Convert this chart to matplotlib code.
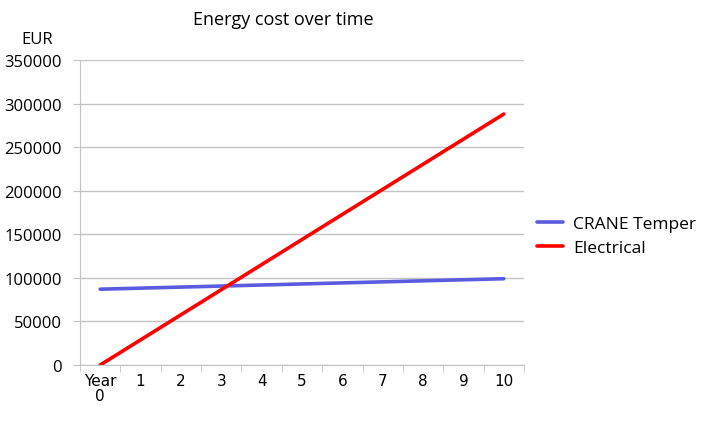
import matplotlib.pyplot as plt
import numpy as np

years = ['Year\n0', '1', '2', '3', '4', '5', '6', '7', '8', '9', '10']
crane_temper = [87000, 88200, 89400, 90600, 91800, 93000, 94200, 95400, 96600, 97800, 99000]
electrical = [0, 28800, 57600, 86400, 115200, 144000, 172800, 201600, 230400, 259200, 288000]
yticks = [0, 50000, 100000, 150000, 200000, 250000, 300000, 350000]

calibri_like = ['Open Sans', 'DejaVu Sans']
grey = '#C4C4C4'

fig = plt.figure(figsize=(7.21, 4.27), dpi=100)
ax = fig.add_axes([80 / 721, 61 / 427, 444 / 721, 305 / 427])

x = np.arange(len(years))
ax.plot(x, crane_temper, '-', color='#5B5BE0', lw=2.6, label='CRANE Temper', solid_capstyle='round')
ax.plot(x, electrical, '-', color='#FF0000', lw=2.6, label='Electrical', solid_capstyle='round')

ax.set_xlim(-0.5, len(years) - 0.5)
ax.set_ylim(0, 350000)
ax.set_yticks(yticks)
ax.set_yticklabels([str(v) for v in yticks], fontsize=12, family=calibri_like)
ax.yaxis.grid(True, color=grey, lw=1)
ax.set_axisbelow(True)

ax.set_xticks(x)
ax.set_xticklabels(years, fontsize=11, family='DejaVu Sans', linespacing=1.0)
ax.set_xticks(np.arange(len(years) + 1) - 0.5, minor=True)
ax.tick_params(axis='x', which='major', length=0, pad=6)
ax.tick_params(axis='x', which='minor', length=5, color=grey, direction='out')
ax.tick_params(axis='y', length=5, color=grey, direction='out', pad=8)

for s in ['top', 'right']:
    ax.spines[s].set_visible(False)
ax.spines['left'].set_color(grey)
ax.spines['bottom'].set_color(grey)

fig.text(283 / 721, 1 - 20 / 427, 'Energy cost over time', ha='center', va='center',
         fontsize=13, family=calibri_like)
fig.text(37 / 721, 1 - 40 / 427, 'EUR', ha='center', va='center',
         fontsize=12, family=calibri_like)

leg = fig.legend(loc='center left', bbox_to_anchor=(521 / 721, 1 - 237 / 427), frameon=False,
                 prop={'family': calibri_like, 'size': 12.5}, handlelength=1.5,
                 handletextpad=0.6, labelspacing=0.45)

fig.savefig('out.png', dpi=100)
